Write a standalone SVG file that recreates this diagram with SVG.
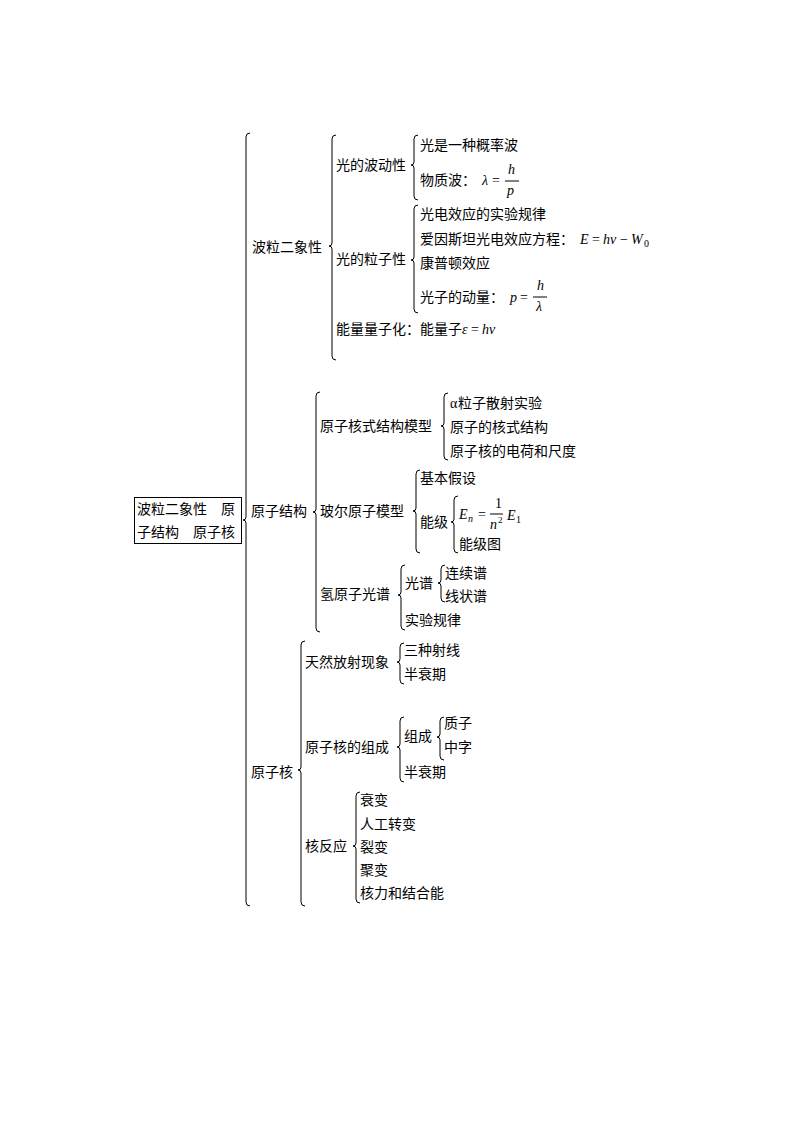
<svg xmlns="http://www.w3.org/2000/svg" width="794" height="1123" viewBox="0 0 794 1123">
<style>
text{font-family:"Noto Sans CJK SC","Liberation Sans",sans-serif;font-size:14px;fill:#000}
.m{font-family:"Liberation Serif",serif;font-style:italic;font-size:14px}
.s{font-family:"Liberation Serif",serif;font-size:14px}
.b{fill:none;stroke:#000;stroke-width:1}
</style>
<rect width="794" height="1123" fill="#fff"/>
<g id="connectors">
<path class="b" d="M250 133 Q246 133 246 137 V517 Q246 520 243 520 Q246 520 246 523 V902 Q246 906 250 906"/>
<path class="b" d="M336 135 Q332 135 332 139 V243 Q332 246 329 246 Q332 246 332 249 V356 Q332 360 336 360"/>
<path class="b" d="M320 392 Q316 392 316 396 V509 Q316 512 313 512 Q316 512 316 515 V628 Q316 632 320 632"/>
<path class="b" d="M305 641 Q301 641 301 645 V767 Q301 770 298 770 Q301 770 301 773 V902 Q301 906 305 906"/>
<path class="b" d="M418 135 Q414 135 414 139 V162 Q414 165 411 165 Q414 165 414 168 V196 Q414 200 418 200"/>
<path class="b" d="M418 205 Q414 205 414 209 V257 Q414 260 411 260 Q414 260 414 263 V309 Q414 313 418 313"/>
<path class="b" d="M448 393 Q444 393 444 397 V423 Q444 426 441 426 Q444 426 444 429 V456 Q444 460 448 460"/>
<path class="b" d="M420 470 Q416 470 416 474 V508 Q416 511 413 511 Q416 511 416 514 V549 Q416 553 420 553"/>
<path class="b" d="M458 496 Q454 496 454 500 V519 Q454 522 451 522 Q454 522 454 525 V549 Q454 553 458 553"/>
<path class="b" d="M405 565 Q401 565 401 569 V592 Q401 595 398 595 Q401 595 401 598 V626 Q401 630 405 630"/>
<path class="b" d="M445 565 Q441 565 441 569 V580 Q441 583 438 583 Q441 583 441 586 V598 Q441 602 445 602"/>
<path class="b" d="M404 643 Q400 643 400 647 V659 Q400 662 397 662 Q400 662 400 665 V680 Q400 684 404 684"/>
<path class="b" d="M404 717 Q400 717 400 721 V744 Q400 747 397 747 Q400 747 400 750 V778 Q400 782 404 782"/>
<path class="b" d="M444 717 Q440 717 440 721 V734 Q440 737 437 737 Q440 737 440 740 V756 Q440 760 444 760"/>
<path class="b" d="M360 792 Q356 792 356 796 V843 Q356 846 353 846 Q356 846 356 849 V899 Q356 903 360 903"/>
</g>
<g id="root">
<rect x="134.5" y="497.5" width="107" height="46" fill="none" stroke="#000"/>
<text x="137" y="514">波粒二象性　原</text>
<text x="137" y="537">子结构　原子核</text>
</g>
<g id="n1">
<text x="252" y="252">波粒二象性</text>
<text x="336" y="170">光的波动性</text>
<text x="420" y="150">光是一种概率波</text>
<text x="420" y="185">物质波：</text>
<text class="m" x="482" y="185">λ</text><text class="s" x="492" y="185">=</text>
<text class="m" x="508" y="174">h</text><line x1="505" y1="181" x2="519" y2="181" stroke="#000"/><text class="m" x="507" y="195">p</text>
<text x="336" y="264">光的粒子性</text>
<text x="420" y="219">光电效应的实验规律</text>
<text x="420" y="244">爱因斯坦光电效应方程：</text>
<text class="m" x="580" y="244">E</text><text class="s" x="592" y="244">= </text><text class="m" x="603" y="244">hν</text><text class="s" x="620" y="244">−</text><text class="m" x="631" y="244">W</text><text class="s" x="644" y="247" style="font-size:10px">0</text>
<text x="420" y="268">康普顿效应</text>
<text x="420" y="302">光子的动量：</text>
<text class="m" x="510" y="302">p</text><text class="s" x="520" y="302">=</text>
<text class="m" x="537" y="290">h</text><line x1="533" y1="297" x2="547" y2="297" stroke="#000"/><text class="m" x="536" y="311">λ</text>
<text x="336" y="334">能量量子化：能量子</text>
<text class="m" x="462" y="334">ε</text><text class="s" x="471" y="334">=</text><text class="m" x="482" y="334">hν</text>
</g>
<g id="n2">
<text x="251" y="516">原子结构</text>
<text x="320" y="431">原子核式结构模型</text>
<text class="s" x="450" y="408">α</text><text x="458" y="408">粒子散射实验</text>
<text x="450" y="432">原子的核式结构</text>
<text x="450" y="456">原子核的电荷和尺度</text>
<text x="320" y="516">玻尔原子模型</text>
<text x="420" y="483">基本假设</text>
<text x="420" y="527">能级</text>
<text class="m" x="459" y="519">E</text><text class="m" x="468" y="522" style="font-size:10px">n</text><text class="s" x="478" y="519">=</text>
<text class="s" x="495" y="508">1</text><line x1="490" y1="514" x2="503" y2="514" stroke="#000"/><text class="m" x="490" y="529">n</text><text class="s" x="498" y="523" style="font-size:9px">2</text>
<text class="m" x="507" y="520">E</text><text class="s" x="516" y="523" style="font-size:10px">1</text>
<text x="459" y="549">能级图</text>
<text x="320" y="599">氢原子光谱</text>
<text x="405" y="588">光谱</text>
<text x="445" y="578">连续谱</text>
<text x="445" y="601">线状谱</text>
<text x="405" y="625">实验规律</text>
</g>
<g id="n3">
<text x="251" y="777">原子核</text>
<text x="305" y="667">天然放射现象</text>
<text x="404" y="655">三种射线</text>
<text x="404" y="679">半衰期</text>
<text x="305" y="752">原子核的组成</text>
<text x="404" y="741">组成</text>
<text x="444" y="728">质子</text>
<text x="444" y="752">中字</text>
<text x="404" y="777">半衰期</text>
<text x="305" y="851">核反应</text>
<text x="360" y="805">衰变</text>
<text x="360" y="829">人工转变</text>
<text x="360" y="852">裂变</text>
<text x="360" y="875">聚变</text>
<text x="360" y="898">核力和结合能</text>
</g>
</svg>
